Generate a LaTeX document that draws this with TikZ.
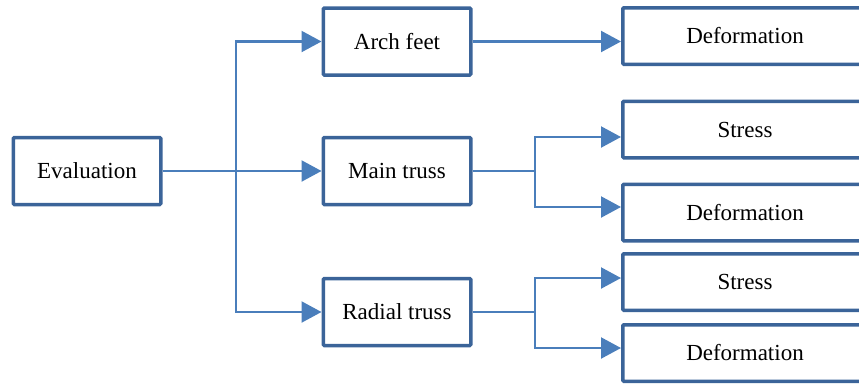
\documentclass[tikz,border=0pt]{standalone}
\usepackage{fontspec}
\setmainfont{Liberation Serif}
\usetikzlibrary{arrows.meta}
\definecolor{boxblue}{HTML}{3B6499}
\definecolor{lineblue}{HTML}{4A7EBB}

\begin{document}
\begin{tikzpicture}[x = 1pt, y = -1pt, every node/.style = {rectangle,
	draw = boxblue, line width = 3.5pt, fill = white, rounded corners = 1pt,
	font = \fontsize{23}{27}\selectfont, inner sep = 0pt},
	item/.style = {minimum width = 147.5pt, minimum height = 67pt},
	leaf/.style = {minimum width = 244.5pt, minimum height = 56.5pt},
	line/.style = {draw = lineblue, line width = 2.2pt},
	link/.style = {line, -{Triangle[length = 20pt, width = 21pt]}}]

	\useasboundingbox (0, 0) rectangle (859, 383);
	\clip (0, 0) rectangle (859, 383);

		\node (eval)    at ( 87, 171  ) [item] {Evaluation};
		\node (arch)    at (397,  41.5) [item] {Arch feet};
		\node (main)    at (397, 171  ) [item] {Main truss};
		\node (radial)  at (397, 312  ) [item] {Radial truss};
		\node (defA)    at (745,  36  ) [leaf] {Deformation};
		\node (stressB) at (745, 129.5) [leaf] {Stress};
		\node (defB)    at (745, 212.5) [leaf] {Deformation};
		\node (stressC) at (745, 282  ) [leaf] {Stress};
		\node (defC)    at (745, 353  ) [leaf] {Deformation};

		\coordinate (jL) at (236, 171);
		\coordinate (jM) at (535, 171);
		\coordinate (jR) at (535, 312);

		\draw [link] (eval) -- (main);
		\draw [link] (jL) |- (arch);
		\draw [link] (jL) |- (radial);
		\draw [link] (arch.east) -- (arch.east -| defA.west);
		\draw [line] (main) -- (jM);
		\draw [line] (radial) -- (jR);

	    \foreach \from/\dy/\to in {jM/-7.5/stressB, jM/5.5/defB, jR/4/stressC, jR/5/defC}
	    	\draw [link] (\from) |- ([yshift = \dy pt]\to.west);

	\end{tikzpicture}
\end{document}
